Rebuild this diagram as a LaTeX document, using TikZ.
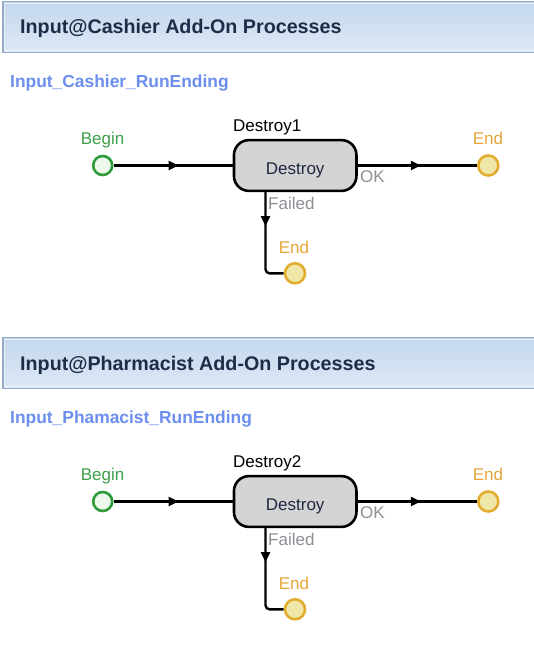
\documentclass[tikz,border=0pt]{standalone}
\usepackage{fontspec}
\setmainfont{Liberation Sans}
\usetikzlibrary{arrows.meta,decorations.markings,calc}
\definecolor{hdtop}{HTML}{C4D8EE}
\definecolor{hdbot}{HTML}{DDE8F5}
\definecolor{hdborder}{HTML}{96A9C6}
\definecolor{titlec}{HTML}{1F2C48}
\definecolor{subc}{HTML}{6C8FEE}
\definecolor{begc}{HTML}{2E9A3A}
\definecolor{begfill}{HTML}{EEF9EE}
\definecolor{begtxt}{HTML}{3FA04A}
\definecolor{endc}{HTML}{E2AC2E}
\definecolor{endfill}{HTML}{EEE7A8}
\definecolor{endtxt}{HTML}{E6A53A}
\definecolor{boxfill}{HTML}{D4D4D4}
\definecolor{boxtxt}{HTML}{1E2840}
\definecolor{porttxt}{HTML}{8E8E96}
\tikzset{
  lbl/.style={inner sep=0pt, font=\fontsize{17}{20}\selectfont},
  titletext/.style={inner sep=0pt, anchor=base west, text=titlec, font=\fontsize{19.7}{22}\selectfont\bfseries},
  subtext/.style={inner sep=0pt, anchor=base west, text=subc, font=\fontsize{17.4}{20}\selectfont\bfseries},
  begnode/.style={circle, minimum size=19pt, inner sep=0pt, line width=2.6pt, draw=begc, fill=begfill},
  endnode/.style={circle, minimum size=20pt, inner sep=0pt, line width=2.6pt, draw=endc, fill=endfill},
  proc/.style={rectangle, rounded corners=15pt, minimum width=122.5pt, minimum height=50.8pt, fill=boxfill, draw=black, line width=2.6pt, inner sep=0pt, text=boxtxt, font=\fontsize{17}{20}\selectfont, text height=17pt, text depth=0pt},
  flow/.style={draw=black, line width=2.4pt, postaction={decorate}},
  midarrow/.style={decoration={markings, mark=at position #1 with {\arrow{Triangle[length=10pt,width=9pt]}}}},
}
\newcommand{\addonblock}[4]{%
  \shade[top color=hdtop, bottom color=hdbot] (3,1.7) rectangle (536,52.7);
  \draw[hdborder, line width=1.4pt] (3,1.7) rectangle (536,52.7);
  \draw[white, opacity=.55, line width=1pt] (4.8,3.5) rectangle (536,50.9);
  \node[titletext] (title#1) at (20,34) {#2};
  \node[subtext] (sub#1) at (10,87.5) {#3};
  \node[begnode] (begin#1) at (102.7,165.5) {};
  \node[proc] (box#1) at (295.2,165.5) {Destroy};
  \node[endnode] (endok#1) at (488.3,165.5) {};
  \node[endnode] (endfail#1) at (295,273.3) {};
  \node[lbl, text=begtxt, anchor=base] (beginlbl#1) at (102.5,144.3) {Begin};
  \node[lbl, text=black, anchor=base west] (name#1) at (233,131) {#4};
  \node[lbl, text=endtxt, anchor=base] (endoklbl#1) at (488,144.3) {End};
  \node[lbl, text=endtxt, anchor=base] (endfaillbl#1) at (294,253.3) {End};
  \node[lbl, text=porttxt, anchor=base west] (oklbl#1) at (360,182.7) {OK};
  \node[lbl, text=porttxt, anchor=base west] (faillbl#1) at (268,209.3) {Failed};
  \draw[flow, midarrow=65pt] (begin#1) -- (box#1.west);
  \draw[flow, midarrow=63pt] (box#1.east) -- (endok#1);
  \draw[flow, midarrow=34pt, rounded corners=4pt] ([xshift=-29.7pt]box#1.south) |- (endfail#1);
}
\begin{document}
\begin{tikzpicture}[x=1pt, y=-1pt]
  \useasboundingbox (0,0) rectangle (533,661);
  \fill[white] (0,0) rectangle (533,661);
  \addonblock{a}{Input@Cashier Add-On Processes}{Input\_Cashier\_RunEnding}{Destroy1}
  \begin{scope}[shift={(0,336)}]
    \addonblock{b}{Input@Pharmacist Add-On Processes}{Input\_Phamacist\_RunEnding}{Destroy2}
  \end{scope}
\end{tikzpicture}
\end{document}
